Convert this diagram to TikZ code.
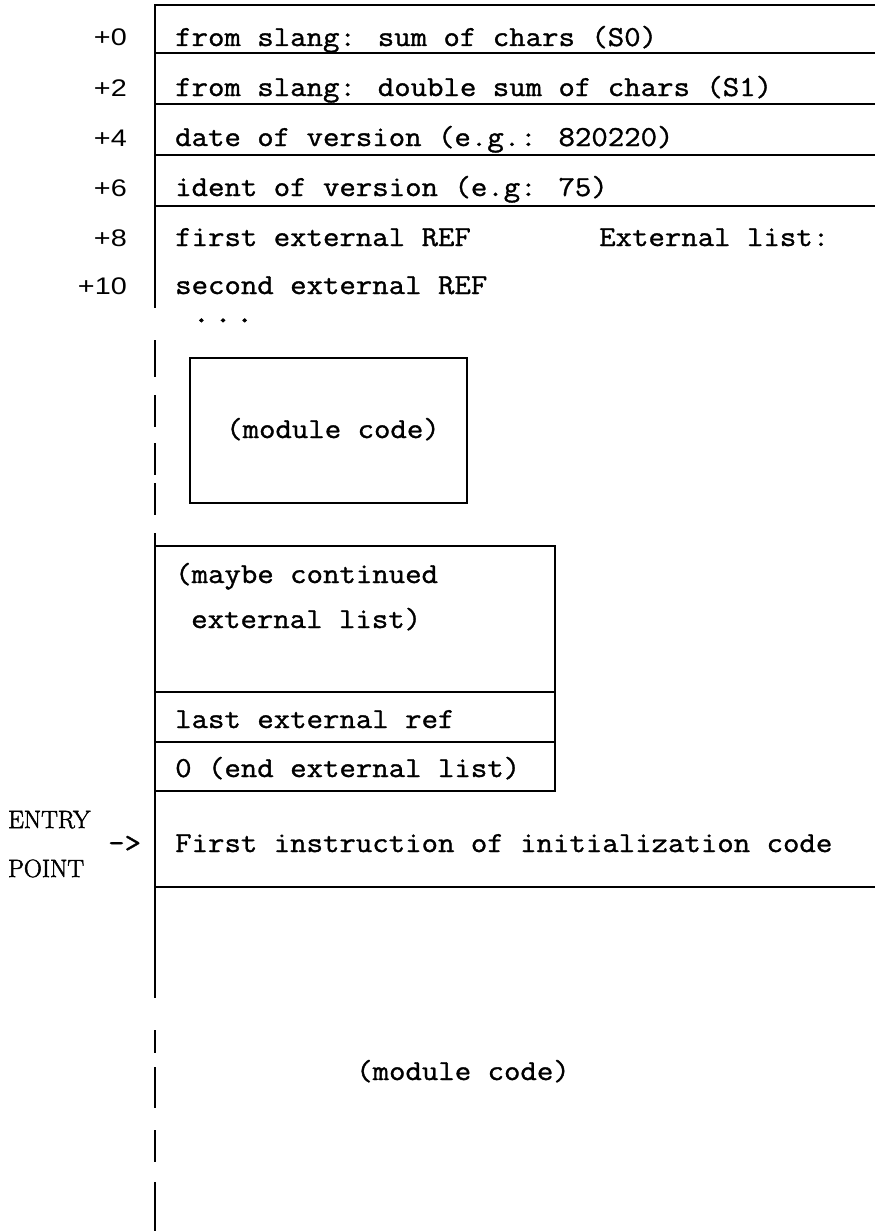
\documentclass[tikz,border=0pt]{standalone}
\usepackage{fontspec}
\newfontfamily\typefont[FakeStretch=1.1, FakeBold=1.2]{Latin Modern Mono}
\newfontfamily\dotfont[FakeStretch=1.1, FakeBold=3]{Latin Modern Mono}
\newfontfamily\labelfont[FakeStretch=1.2]{Liberation Sans}
\newfontfamily\entryfont[FakeBold=2]{Latin Modern Roman}
\tikzset{
  cell/.style={anchor=base west, inner sep=0pt, font=\typefont\fontsize{29}{31}\selectfont},
  offset/.style={anchor=base east, inner sep=0pt, font=\labelfont\fontsize{24}{26}\selectfont},
  entrylabel/.style={anchor=base west, inner sep=0pt, font=\entryfont\fontsize{25}{27}\selectfont},
  rule/.style={line width=2.9pt, line join=miter},
}
\begin{document}
\begin{tikzpicture}[x=1pt, y=-1pt]
\useasboundingbox (0,0) rectangle (875,1231);

% --- header words of the module ---
\draw[rule] (875,5) -- (155,5) -- (155,308);
\foreach \yy in {53,104,155,206} \draw[rule] (155,\yy) -- (875,\yy);

% broken spine above the module code
\foreach \ya/\yb in {340/377, 395/427, 443/475, 483/515}
  \draw[rule] (155,\ya) -- (155,\yb);

% inner module code block
\draw[rule] (190,358) rectangle (467,503);

% continued external list block
\draw[rule] (155,533) -- (155,998);
\draw[rule] (155,546) -- (555,546) -- (555,791) -- (155,791);
\draw[rule] (155,692) -- (555,692);
\draw[rule] (155,742) -- (555,742);

% entry point row
\draw[rule] (155,887) -- (875,887);

% broken spine below
\foreach \ya/\yb in {1030/1053, 1067/1108, 1130/1162, 1182/1231}
  \draw[rule] (155,\ya) -- (155,\yb);

% --- offsets ---
\node[offset] (o0)  at (127,46)  {+0};
\node[offset] (o2)  at (127,96)  {+2};
\node[offset] (o4)  at (127,146) {+4};
\node[offset] (o6)  at (127,196) {+6};
\node[offset] (o8)  at (127,246) {+8};
\node[offset] (o10) at (127,294) {+10};

% --- word contents ---
\node[cell] (s0)   at (175,46)  {from slang: sum of chars (S0)};
\node[cell] (s1)   at (175,96)  {from slang: double sum of chars (S1)};
\node[cell] (date) at (175,146) {date of version (e.g.: 820220)};
\node[cell] (id)   at (175,196) {ident of version (e.g: 75)};
\node[cell] (ext1) at (175,246) {first external REF};
\node[cell] (exth) at (599,246) {External list:};
\node[cell, font=\dotfont\fontsize{29}{31}\selectfont] (dots) at (193,322) {.\kern5.2pt.\kern5.2pt.};
\node[cell] (ext2) at (175,294) {second external REF};

\node[cell] (mod1) at (226,438) {(module code)};

\node[cell] (cont1) at (175,583) {(maybe continued};
\node[cell] (cont2) at (191,628) {external list)};
\node[cell] (last)  at (175,728) {last external ref};
\node[cell] (zero)  at (175,777) {0 (end external list)};

\node[entrylabel] (entry) at (8,828) {ENTRY};
\node[entrylabel] (point) at (8,877) {POINT};
\node[cell] (arrow) at (108,852) {->};
\node[cell] (init)  at (175,852) {First instruction of initialization code};

\node[cell] (mod2) at (356,1080) {(module code)};
\end{tikzpicture}
\end{document}
